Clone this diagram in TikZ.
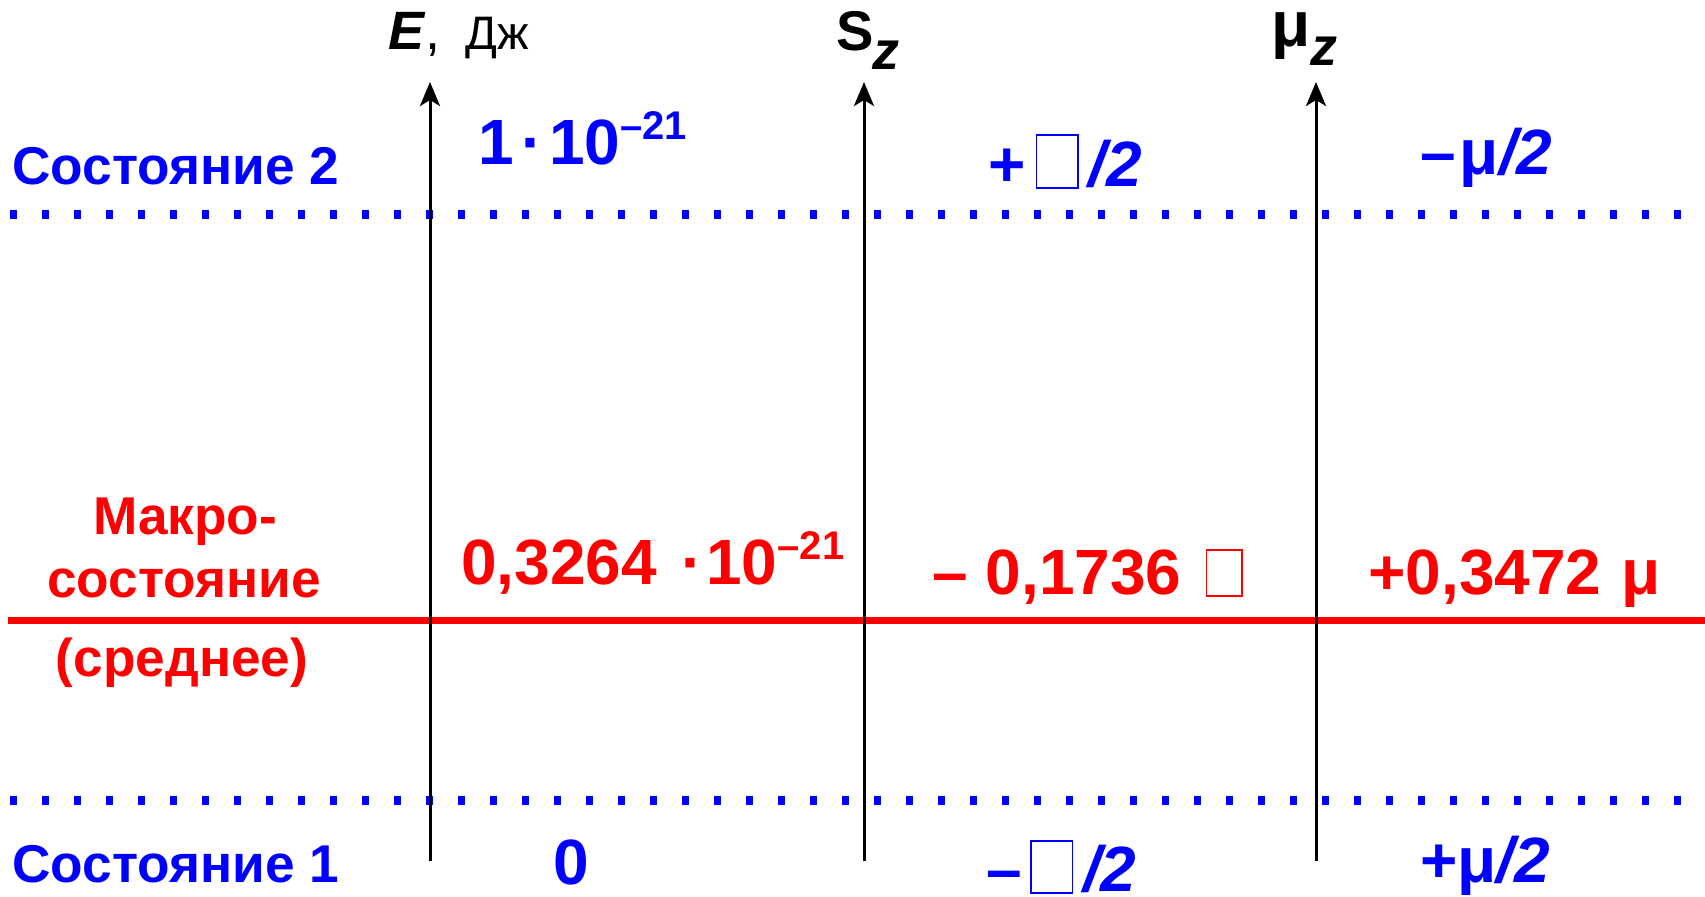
\documentclass[tikz,border=0pt]{standalone}
\usepackage{fontspec}
\setmainfont{Liberation Sans}
\usetikzlibrary{arrows.meta}
\definecolor{myblue}{RGB}{0,0,255}
\definecolor{myred}{RGB}{255,0,0}
\newcommand\gbox[2]{{\fboxsep=0pt\fboxrule=0.8pt\fbox{\rule{0pt}{#2}\hspace{#1}}}}
\newcommand\supr[1]{\raisebox{12.5pt}{\fontsize{20}{20}\selectfont #1}}
\begin{document}
\begin{tikzpicture}[x=0.5pt,y=-0.5pt,
  lbl/.style={font=\fontsize{26.6}{30}\selectfont\bfseries, inner sep=0pt},
  val/.style={font=\fontsize{32}{36}\selectfont\bfseries, inner sep=0pt},
  axlbl/.style={font=\fontsize{27}{30}\selectfont\bfseries, inner sep=0pt, anchor=base west},
  axisline/.style={line width=1.5pt, -{Stealth[length=12pt,width=10pt,inset=3pt]}},
  dotline/.style={myblue, line width=4.5pt, dash pattern=on 3.5pt off 12.5pt},
  macroline/.style={myred, line width=3.5pt}]
\useasboundingbox (0,0) rectangle (1705,897);

% levels
\coordinate (b2l) at (10,215); \coordinate (b2r) at (1700,215);
\coordinate (b1l) at (10,801); \coordinate (b1r) at (1700,801);
\coordinate (rl) at (8,621); \coordinate (rr) at (1705,621);
\draw[dotline] (b2l) -- (b2r);
\draw[dotline] (b1l) -- (b1r);
\draw[macroline] (rl) -- (rr);

% axes
\coordinate (e0) at (430,861); \coordinate (e1) at (430,82);
\coordinate (s0) at (864,861); \coordinate (s1) at (864,82);
\coordinate (m0) at (1316,861); \coordinate (m1) at (1316,82);
\draw[axisline] (e0) -- (e1);
\draw[axisline] (s0) -- (s1);
\draw[axisline] (m0) -- (m1);

% axis labels
\node[axlbl] (elab) at (388,50) {\textit{E}\textmd{,}};
\node[axlbl, font=\fontsize{23.5}{26}\selectfont] (dzh) at (465,50) {Дж};
\node[axlbl, font=\fontsize{28}{30}\selectfont\bfseries] (slab) at (836,51) {S};
\node[axlbl] (sz) at (872,70) {\textit{z}};
\node[axlbl, font=\fontsize{32}{36}\selectfont\bfseries] (mlab) at (1271,47) {μ};
\node[axlbl] (mz) at (1310,66) {\textit{z}};

% left labels
\node[lbl, myblue, anchor=base west] (st2) at (12,185) {Состояние 2};
\node[lbl, myblue, anchor=base west] (st1) at (12,883) {Состояние 1};
\node[lbl, myred, anchor=base] (mk1) at (185,535) {Макро-};
\node[lbl, myred, anchor=base] (mk2) at (184,598) {состояние};
\node[lbl, myred, anchor=base] (mk3) at (182,677) {(среднее)};

% state 2 values
\node[val, myblue, anchor=base west] (e2) at (478,165) {1\hspace{4pt}·\hspace{3pt}10\supr{–21}};
\node[val, myblue, anchor=base west] (s2) at (988,187) {+\hspace{5pt}\gbox{20pt}{25.5pt}\hspace{5pt}\textit{/2}};
\node[val, myblue, anchor=base west] (m2) at (1420,175) {–\hspace{2pt}μ\textit{/2}};

% macro values
\node[val, myred, anchor=base west] (em) at (461,585) {0,3264\hspace{12pt}·\hspace{2pt}10\supr{–21}};
\node[val, myred, anchor=base west] (sm) at (932,595) {– 0,1736\hspace{12pt}\gbox{17pt}{22pt}};
\node[val, myred, anchor=base west] (mm) at (1368,595) {+0,3472\hspace{10pt}μ};

% state 1 values
\node[val, myblue, anchor=base] (e1v) at (571,885) {0};
\node[val, myblue, anchor=base west] (s1v) at (986,892) {–\hspace{4pt}\gbox{20pt}{25pt}\hspace{5pt}\textit{/2}};
\node[val, myblue, anchor=base west] (m1v) at (1420,883) {+μ\textit{/2}};
\end{tikzpicture}
\end{document}
